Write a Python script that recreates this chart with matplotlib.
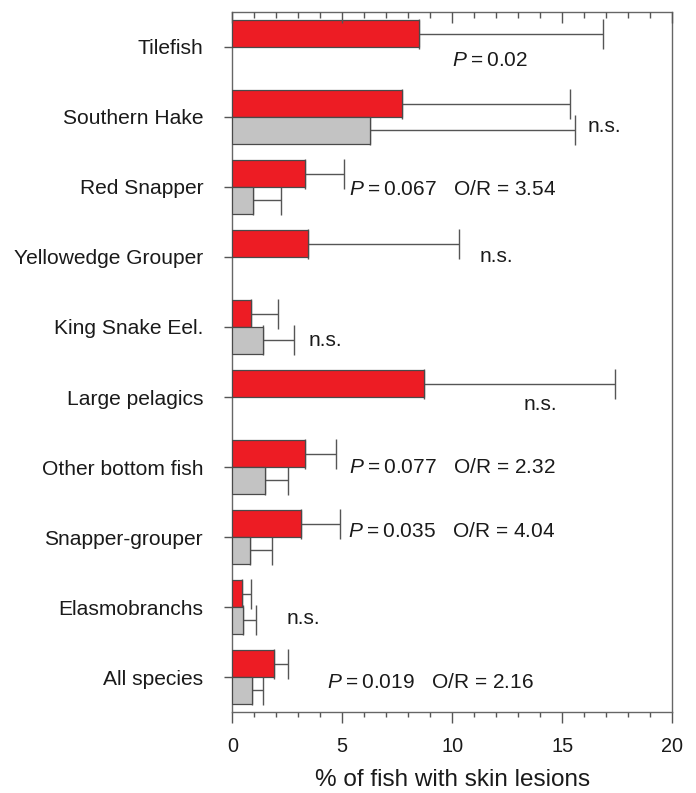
import numpy as np
import matplotlib
matplotlib.use("Agg")
import matplotlib.pyplot as plt
from matplotlib.ticker import MultipleLocator

plt.rcParams['font.family'] = ['Liberation Sans', 'DejaVu Sans']
plt.rcParams['mathtext.fontset'] = 'custom'
plt.rcParams['mathtext.it'] = 'Liberation Sans:italic'
plt.rcParams['mathtext.rm'] = 'Liberation Sans'

# ---- data (top to bottom) ----
categories = ["Tilefish", "Southern Hake", "Red Snapper", "Yellowedge Grouper",
              "King Snake Eel.", "Large pelagics", "Other bottom fish",
              "Snapper-grouper", "Elasmobranchs", "All species"]
red_vals = [8.5, 7.7, 3.3, 3.45, 0.85, 8.7, 3.3, 3.12, 0.43, 1.9]
red_err_top = [16.87, 15.38, 5.09, 10.29, 2.1, 17.4, 4.7, 4.89, 0.84, 2.55]
gray_vals = [None, 6.26, 0.95, None, 1.38, None, 1.49, 0.8, 0.47, 0.88]
gray_err_top = [None, 15.58, 2.2, None, 2.79, None, 2.52, 1.82, 1.08, 1.41]
annotations = ["$\\mathit{P}$\u2009=\u20090.02", "n.s.",
               "$\\mathit{P}$\u2009=\u20090.067   O/R = 3.54", "n.s.", "n.s.", "n.s.",
               "$\\mathit{P}$\u2009=\u20090.077   O/R = 2.32",
               "$\\mathit{P}$\u2009=\u20090.035   O/R = 4.04", "n.s.",
               "$\\mathit{P}$\u2009=\u20090.019   O/R = 2.16"]

# ---- layout for annotations (x in data units, y offset from category center) ----
ann_x = [10.0, 16.15, 5.32, 11.26, 3.45, 13.23, 5.32, 5.28, 2.47, 4.29]
ann_dy = [-0.2, -0.13, -0.03, 0.0, -0.19, -0.1, -0.01, 0.08, -0.17, -0.07]

RED = "#ED1C24"
GRAY = "#C3C3C3"
EDGE = "#4a4a4a"
ERRC = "#555555"
TXT = "#1a1a1a"
bh = 0.38

fig = plt.figure(figsize=(6.96, 7.93), dpi=100)
ax = fig.add_axes([0.3338, 0.102, 0.6317, 0.883])

n = len(categories)
ypos = np.arange(n)[::-1].astype(float)

for i in range(n):
    y = ypos[i]
    ax.barh(y + bh / 2, red_vals[i], height=bh, color=RED, edgecolor=EDGE, linewidth=0.9, zorder=3)
    ax.errorbar(red_vals[i], y + bh / 2, xerr=[[0], [red_err_top[i] - red_vals[i]]],
                fmt='none', ecolor=ERRC, elinewidth=1.0, capsize=10.5, capthick=1.0, zorder=2)
    if gray_vals[i] is not None:
        ax.barh(y - bh / 2, gray_vals[i], height=bh, color=GRAY, edgecolor=EDGE, linewidth=0.9, zorder=3)
        ax.errorbar(gray_vals[i], y - bh / 2, xerr=[[0], [gray_err_top[i] - gray_vals[i]]],
                    fmt='none', ecolor=ERRC, elinewidth=1.0, capsize=10.5, capthick=1.0, zorder=2)
    ax.text(ann_x[i], y + ann_dy[i], annotations[i], ha='left', va='center',
            fontsize=15, color=TXT)

ax.set_xlim(0, 20)
ax.set_ylim(-0.5, n - 0.5)
ax.set_yticks(ypos)
ax.set_yticklabels(categories, fontsize=15.1, color=TXT)
ax.xaxis.set_major_locator(MultipleLocator(5))
ax.xaxis.set_minor_locator(MultipleLocator(1))
ax.tick_params(axis='x', which='major', direction='out', length=8, width=1, color=ERRC,
               labelsize=14.3, labelcolor=TXT, pad=10)
ax.tick_params(axis='x', which='minor', direction='out', length=3.5, width=1, color=ERRC)
ax.tick_params(axis='y', direction='out', length=6, width=1, color=ERRC, pad=15)
ax.set_xlabel("% of fish with skin lesions", fontsize=17.5, color=TXT, labelpad=9)
for s in ax.spines.values():
    s.set_color("#666666")
    s.set_linewidth(1.0)

# top ticks pointing inward
ax2 = ax.twiny()
ax2.set_xlim(ax.get_xlim())
ax2.xaxis.set_major_locator(MultipleLocator(5))
ax2.xaxis.set_minor_locator(MultipleLocator(1))
ax2.tick_params(axis='x', which='major', direction='in', length=8, width=1, color=ERRC, labeltop=False)
ax2.tick_params(axis='x', which='minor', direction='in', length=4.5, width=1, color=ERRC)
for s in ax2.spines.values():
    s.set_visible(False)

fig.savefig("out.png", dpi=100)
